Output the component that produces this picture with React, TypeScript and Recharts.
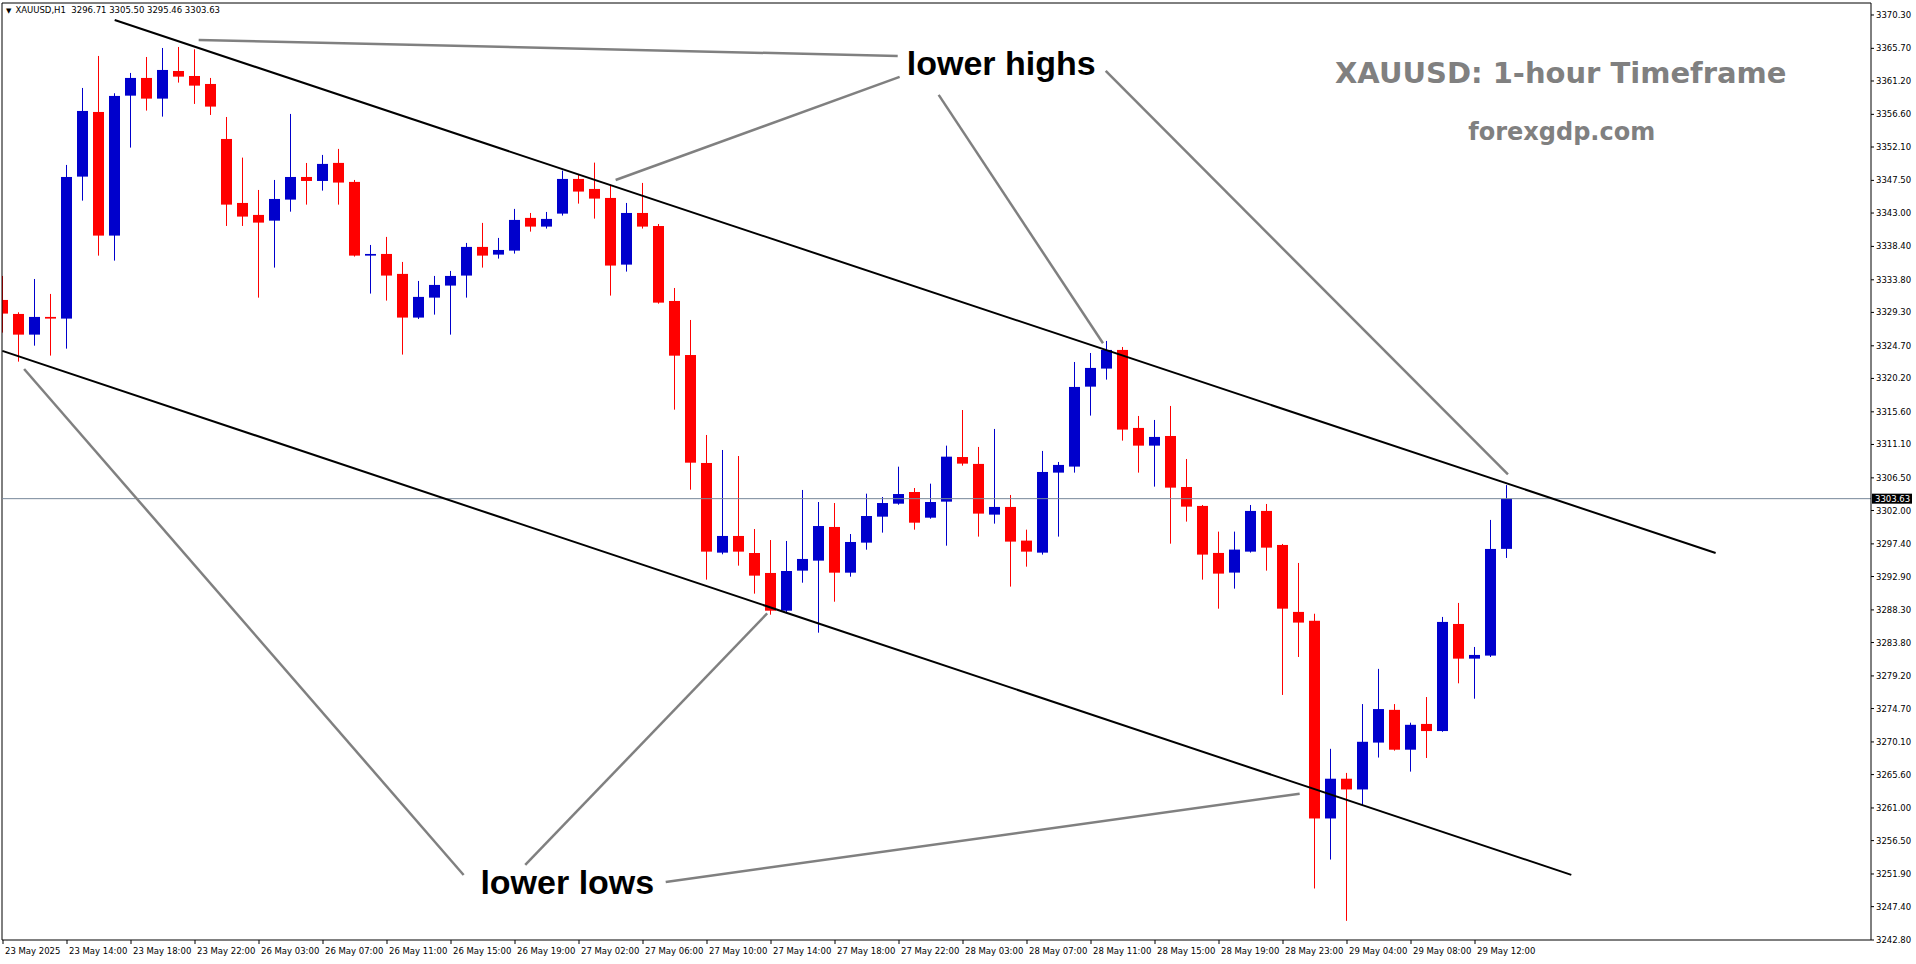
import { ComposedChart, Bar, XAxis, YAxis, ReferenceLine, ReferenceDot } from 'recharts';

// XAUUSD H1, 23 May 10:00 -> 29 May 14:00 (95 bars)
const opens = [
  3331.02, 3329.09, 3326.24, 3328.68, 3328.45, 3348.02, 3356.93, 3339.89, 3359.18, 3361.62,
  3358.77, 3362.58, 3361.89, 3360.79, 3353.21, 3344.39, 3342.74, 3341.95, 3344.85, 3347.97,
  3347.42, 3349.91, 3347.29, 3337.13, 3337.36, 3334.61, 3328.59, 3331.34, 3333.00, 3334.38,
  3338.33, 3337.27, 3337.82, 3342.33, 3341.13, 3342.92, 3347.70, 3346.32, 3345.08, 3335.89,
  3343.01, 3341.21, 3330.88, 3323.43, 3308.55, 3296.19, 3298.49, 3296.14, 3293.39, 3288.19,
  3293.71, 3295.09, 3299.73, 3293.43, 3297.57, 3301.15, 3302.94, 3304.55, 3301.01, 3303.22,
  3309.37, 3308.42, 3301.43, 3302.49, 3297.85, 3296.19, 3307.22, 3308.05, 3319.07, 3321.56,
  3324.13, 3313.38, 3310.94, 3312.27, 3305.24, 3302.63, 3296.15, 3293.44, 3296.33, 3301.94,
  3297.25, 3288.02, 3286.80, 3259.55, 3265.03, 3263.55, 3270.01, 3274.52, 3269.03, 3272.58,
  3271.60, 3286.36, 3281.58, 3282.00, 3296.71,
];
const highs = [
  3334.33, 3329.32, 3333.91, 3331.85, 3349.63, 3360.24, 3364.65, 3359.51, 3362.31, 3364.51,
  3365.75, 3365.89, 3365.57, 3361.62, 3356.24, 3350.64, 3346.18, 3347.56, 3356.66, 3349.90,
  3351.01, 3351.84, 3347.56, 3338.60, 3339.71, 3336.26, 3333.64, 3334.33, 3335.02, 3338.88,
  3341.64, 3339.57, 3343.57, 3343.01, 3343.15, 3348.85, 3348.30, 3349.95, 3346.92, 3344.39,
  3347.15, 3341.49, 3332.67, 3328.26, 3312.41, 3310.34, 3309.51, 3299.45, 3297.93, 3297.80,
  3304.83, 3303.17, 3303.03, 3298.76, 3304.32, 3303.86, 3308.04, 3305.10, 3305.70, 3310.94,
  3315.85, 3310.76, 3313.24, 3304.14, 3299.36, 3310.21, 3308.69, 3322.47, 3323.71, 3325.37,
  3324.54, 3315.03, 3314.48, 3316.41, 3309.10, 3302.76, 3299.09, 3299.09, 3302.76, 3302.90,
  3297.39, 3294.77, 3287.77, 3269.15, 3265.83, 3275.32, 3280.17, 3275.32, 3272.75, 3276.29,
  3287.33, 3289.26, 3283.19, 3300.70, 3305.50,
];
const lows = [
  3326.52, 3322.52, 3324.72, 3323.35, 3324.31, 3344.71, 3337.13, 3336.44, 3352.02, 3357.12,
  3356.29, 3360.98, 3358.04, 3356.52, 3341.22, 3341.22, 3331.34, 3335.48, 3343.19, 3344.16,
  3346.09, 3344.16, 3337.00, 3331.90, 3330.93, 3323.49, 3328.40, 3329.00, 3326.24, 3331.34,
  3335.48, 3336.72, 3337.41, 3340.44, 3340.86, 3342.65, 3344.30, 3342.23, 3331.62, 3334.93,
  3340.86, 3330.51, 3315.90, 3304.87, 3292.47, 3295.96, 3294.40, 3290.54, 3287.64, 3287.92,
  3292.05, 3285.16, 3289.43, 3292.88, 3296.60, 3298.95, 3302.80, 3299.36, 3300.87, 3297.15,
  3308.18, 3298.40, 3300.19, 3291.51, 3294.26, 3295.92, 3298.40, 3307.22, 3315.08, 3320.04,
  3311.63, 3307.22, 3305.29, 3297.43, 3300.47, 3292.47, 3288.47, 3291.23, 3296.20, 3293.71,
  3276.58, 3281.81, 3249.90, 3253.89, 3245.44, 3261.32, 3267.95, 3268.90, 3266.01, 3267.89,
  3271.50, 3278.18, 3276.06, 3281.81, 3295.46,
];
const closes = [
  3329.14, 3326.24, 3328.68, 3328.45, 3347.97, 3357.07, 3339.89, 3359.14, 3361.62, 3358.77,
  3362.72, 3361.80, 3360.56, 3357.67, 3344.16, 3342.51, 3341.68, 3344.94, 3347.97, 3347.42,
  3349.77, 3347.20, 3337.13, 3337.36, 3334.38, 3328.59, 3331.44, 3333.09, 3334.33, 3338.33,
  3337.13, 3337.91, 3342.05, 3341.13, 3342.19, 3347.70, 3345.96, 3344.99, 3335.76, 3343.01,
  3341.13, 3330.65, 3323.34, 3308.59, 3296.33, 3298.49, 3296.33, 3293.02, 3288.19, 3293.66,
  3295.32, 3299.86, 3293.43, 3297.66, 3301.24, 3303.03, 3304.27, 3300.32, 3303.17, 3309.42,
  3308.46, 3301.57, 3302.49, 3297.71, 3296.33, 3307.31, 3308.28, 3319.03, 3321.65, 3324.13,
  3313.15, 3310.94, 3312.14, 3305.15, 3302.53, 3295.92, 3293.30, 3296.61, 3301.94, 3296.88,
  3288.47, 3286.55, 3259.55, 3265.03, 3263.55, 3270.12, 3274.63, 3269.03, 3272.46, 3271.60,
  3286.64, 3281.58, 3282.09, 3296.70, 3303.63,
];

const xTickLabels = [
  '23 May 2025', '23 May 14:00', '23 May 18:00', '23 May 22:00', '26 May 03:00', '26 May 07:00',
  '26 May 11:00', '26 May 15:00', '26 May 19:00', '27 May 02:00', '27 May 06:00', '27 May 10:00',
  '27 May 14:00', '27 May 18:00', '27 May 22:00', '28 May 03:00', '28 May 07:00', '28 May 11:00',
  '28 May 15:00', '28 May 19:00', '28 May 23:00', '29 May 04:00', '29 May 08:00', '29 May 12:00',
];
const xTicks = xTickLabels.map((_, i) => i * 4);

const yTicks = [
  3370.30, 3365.70, 3361.20, 3356.60, 3352.10, 3347.50, 3343.00, 3338.40, 3333.80, 3329.30,
  3324.70, 3320.20, 3315.60, 3311.10, 3306.50, 3302.00, 3297.40, 3292.90, 3288.30, 3283.80,
  3279.20, 3274.70, 3270.10, 3265.60, 3261.00, 3256.50, 3251.90, 3247.40, 3242.80,
];

const lastPrice = 3303.63;

// drawn objects, as [bar index, price]
const upperChannel = [[6.98, 3369.6], [107.04, 3296.15]];
const lowerChannel = [[-0.04, 3324.0], [98.02, 3251.78]];
const pointerLines = [
  [[12.23, 3366.86], [55.92, 3364.65]],
  [[38.29, 3347.56], [56.04, 3361.76]],
  [[58.48, 3359.28], [68.75, 3325.05]],
  [[68.92, 3362.58], [94.06, 3306.97]],
  [[1.32, 3321.51], [28.79, 3251.76]],
  [[32.64, 3253.14], [47.76, 3287.81]],
  [[41.42, 3250.8], [81.04, 3262.97]],
];

const xDomain = [-0.0625, 116.75];
const yDomain = [3242.8, 3371.95];

const BULL = '#0000CC';
const BEAR = '#FF0000';
const axisFont = 'DejaVu Sans, Verdana, sans-serif';

const candles = opens.map((o, i) => ({
  idx: i,
  open: o,
  high: highs[i],
  low: lows[i],
  close: closes[i],
  range: [lows[i], highs[i]],
}));

function Candle(props: any) {
  const { x, y, width, height, payload } = props;
  if (x == null || !payload) return null;
  const top = Math.min(y, y + height);
  const span = Math.abs(height);
  const k = payload.high > payload.low ? span / (payload.high - payload.low) : 0;
  const yOpen = top + (payload.high - payload.open) * k;
  const yClose = top + (payload.high - payload.close) * k;
  const color = payload.close >= payload.open ? BULL : BEAR;
  const cx = Math.floor(x + width / 2);
  const bodyTop = Math.min(yOpen, yClose);
  const bodyH = Math.max(1, Math.abs(yClose - yOpen));
  return (
    <g>
      <rect x={cx} y={top} width={1} height={Math.max(1, span)} fill={color} />
      <rect x={x} y={bodyTop} width={width} height={bodyH} fill={color} />
    </g>
  );
}

function TimeTick({ x, y, payload }: any) {
  const label = xTickLabels[Math.round(payload.value / 4)];
  return (
    <text x={x + 2} y={y} dy={8} textAnchor="start" fontSize={8.5} fontFamily={axisFont} fill="#000">
      {label}
    </text>
  );
}

function PriceTag({ viewBox }: any) {
  if (!viewBox) return null;
  const x = viewBox.x + viewBox.width + 1;
  return (
    <g>
      <rect x={x} y={viewBox.y - 5} width={40} height={10} fill="#000" />
      <text x={x + 3} y={viewBox.y} dy="0.35em" fill="#fff" fontSize={8.5} fontFamily={axisFont}>
        {lastPrice.toFixed(2)}
      </text>
    </g>
  );
}

function note(text: string, size: number, color: string, family: string) {
  return (p: any) => (
    <text x={p.cx} y={p.cy} textAnchor="middle" dominantBaseline="central"
      fontSize={size} fontWeight="bold" fill={color} fontFamily={family}>
      {text}
    </text>
  );
}

export default function App() {
  return (
    <div style={{ position: 'fixed', left: 0, top: 0, width: 1916, height: 964, background: '#fff' }}>
      <ComposedChart
        width={1916}
        height={964}
        data={candles}
        margin={{ top: 3, right: 0, bottom: 0, left: 2 }}
      >
        <XAxis
          dataKey="idx"
          type="number"
          domain={xDomain}
          allowDataOverflow
          ticks={xTicks}
          interval={0}
          height={24}
          tick={<TimeTick />}
          tickSize={4}
          tickMargin={2}
          tickLine={{ stroke: '#000' }}
          axisLine={{ stroke: '#000' }}
        />
        <YAxis
          orientation="right"
          type="number"
          domain={yDomain}
          allowDataOverflow
          ticks={yTicks}
          interval={0}
          width={45}
          tickSize={3}
          tickMargin={2}
          tickFormatter={(v: number) => v.toFixed(2)}
          tick={{ fontSize: 8.5, fill: '#000', fontFamily: axisFont }}
          tickLine={{ stroke: '#000' }}
          axisLine={{ stroke: '#000' }}
        />

        {/* chart frame, top and left */}
        <ReferenceLine y={yDomain[1]} stroke="#000" ifOverflow="visible" />
        <ReferenceLine x={xDomain[0]} stroke="#000" ifOverflow="visible" />

        <ReferenceLine y={lastPrice} stroke="#778899" strokeWidth={1} label={<PriceTag />} />

        <Bar dataKey="range" barSize={11} shape={<Candle />} isAnimationActive={false} />

        {/* channel */}
        {[upperChannel, lowerChannel].map((seg, i) => (
          <ReferenceLine
            key={`ch${i}`}
            segment={seg.map(([x, y]) => ({ x, y }))}
            stroke="#000"
            strokeWidth={2}
            ifOverflow="visible"
          />
        ))}

        {/* grey pointers to the touches */}
        {pointerLines.map((seg, i) => (
          <ReferenceLine
            key={`pt${i}`}
            segment={seg.map(([x, y]) => ({ x, y }))}
            stroke="#808080"
            strokeWidth={2.5}
            ifOverflow="visible"
          />
        ))}

        <ReferenceDot x={62.39} y={3363.62} shape={note('lower highs', 34, '#000', 'Liberation Sans, Arial, sans-serif')} ifOverflow="visible" />
        <ReferenceDot x={35.27} y={3250.76} shape={note('lower lows', 34, '#000', 'Liberation Sans, Arial, sans-serif')} ifOverflow="visible" />
        <ReferenceDot x={97.36} y={3362.31} shape={note('XAUUSD: 1-hour Timeframe', 29, '#808080', axisFont)} ifOverflow="visible" />
        <ReferenceDot x={97.42} y={3354.18} shape={note('forexgdp.com', 24, '#808080', axisFont)} ifOverflow="visible" />
      </ComposedChart>

      <div style={{ position: 'absolute', left: 6, top: 4, fontFamily: axisFont, fontSize: 8.5, color: '#000', whiteSpace: 'pre', lineHeight: '12px' }}>
        <span style={{ fontSize: 7, marginRight: 4 }}>▼</span>XAUUSD,H1  3296.71 3305.50 3295.46 3303.63
      </div>
    </div>
  );
}
